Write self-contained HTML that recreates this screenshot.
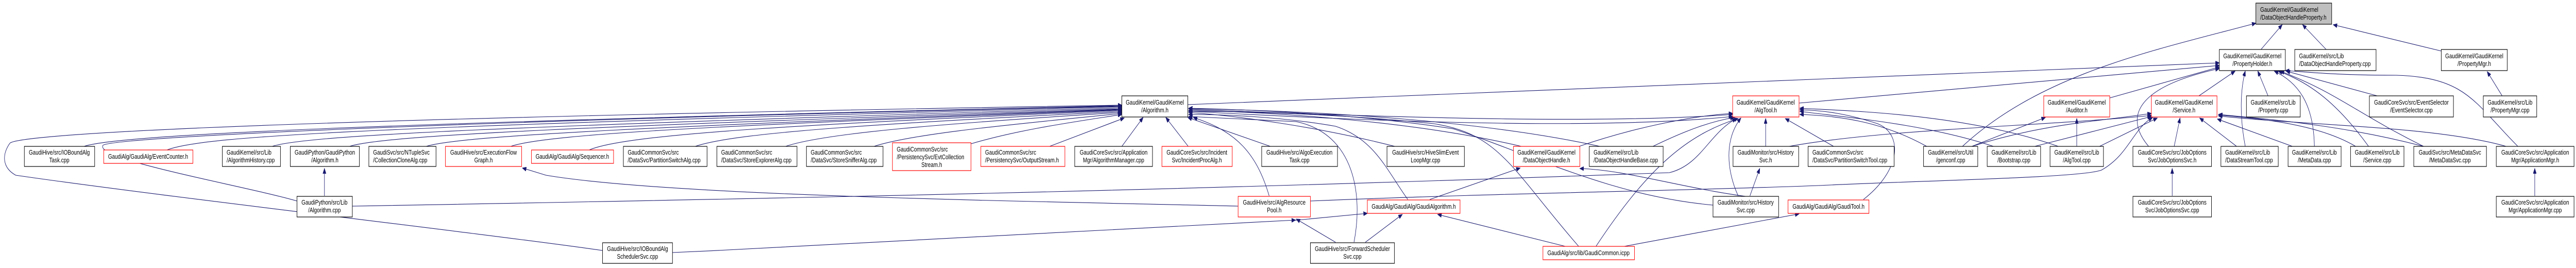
<!DOCTYPE html>
<html><head><meta charset="utf-8"><style>
html,body{margin:0;padding:0;background:#fff;width:100%;height:100%;overflow:hidden;}
svg{display:block;width:100vw;height:100vh;}
text{font-family:"Liberation Sans",Arial,sans-serif;font-size:13px;fill:#000;}
.b{fill:#fff;stroke:#000;stroke-width:1.2;}
.r{fill:#fff;stroke:#ff0000;stroke-width:1.2;}
.e{fill:none;stroke:#191970;stroke-width:1.1;marker-end:url(#a);}
.c{text-anchor:middle;}
</style></head><body>
<svg viewBox="0 0 6558 520" preserveAspectRatio="none" xmlns="http://www.w3.org/2000/svg">
<defs><marker id="a" markerUnits="userSpaceOnUse" markerWidth="11" markerHeight="8" refX="10" refY="4" orient="auto"><path d="M0,0 L10,4 L0,8 z" fill="#191970" stroke="#191970"/></marker></defs>

<path class="e" d="M214,284 C300,262 900,240 2856,205"/>
<path class="e" d="M425,291 C520,262 1000,245 2856,207"/>
<path class="e" d="M693,284 C780,262 1300,245 2856,209"/>
<path class="e" d="M890,284 C980,262 1500,245 2856,211"/>
<path class="e" d="M1085,284 C1180,262 1700,245 2856,212"/>
<path class="e" d="M1300,284 C1400,258 1900,242 2856,213"/>
<path class="e" d="M1500,291 C1600,258 2100,240 2856,214"/>
<path class="e" d="M1770,284 C1880,255 2300,238 2856,216"/>
<path class="e" d="M2000,284 C2100,258 2400,240 2856,218"/>
<path class="e" d="M2225,284 C2330,258 2600,240 2856,220"/>
<path class="e" d="M2472,279 C2600,250 2750,235 2856,222"/>
<path class="e" d="M2672,284 L2862,229"/>
<path class="e" d="M2856,284 L2910,228"/>
<path class="e" d="M3025,284 L2968,228"/>
<path class="e" d="M3234,284 L3024,228"/>
<path class="e" d="M3551,284 C3350,245 3150,225 3026,218"/>
<path class="e" d="M3873,284 C3600,235 3250,218 3026,214"/>
<path class="e" d="M4073,284 C3750,230 3300,214 3026,211"/>
<path class="e" d="M3584,387 C3530,330 3500,270 3400,245 C3250,225 3100,222 3026,222"/>
<path class="e" d="M4019,478 C3850,330 3820,260 3650,240 C3400,220 3150,216 3026,216"/>
<path class="e" d="M3447,470 C3470,380 3450,260 3300,236 L3026,226"/>
<path class="e" d="M3231,380 C3200,300 3150,255 3038,228"/>
<path class="e" d="M4361,398 C4100,380 3900,300 3700,250 C3450,220 3150,212 3026,210"/>
<path class="e" d="M1534,486 C1200,450 400,380 40,340 C5,325 5,300 25,278 C40,265 400,235 2856,204"/>
<path class="e" d="M756,390 C620,360 240,310 262,282 C280,268 1000,238 2856,206"/>
<path class="e" d="M826,380 L826,327"/>
<path class="e" d="M897,400 C2000,385 3000,370 4250,335 C4330,320 4350,260 4420,230"/>
<path class="e" d="M3152,400 C2600,390 1700,380 1390,340 L1330,326"/>
<path class="e" d="M1712,490 C2300,470 2900,445 3298,427"/>
<path class="e" d="M3400,470 L3300,425"/>
<path class="e" d="M3476,470 L3570,416"/>
<path class="e" d="M3290,428 L3481,414"/>
<path class="e" d="M3640,387 L3870,326"/>
<path class="e" d="M3985,478 L3660,416"/>
<path class="e" d="M4063,478 C4200,320 4300,260 4425,230"/>
<path class="e" d="M4135,478 L4580,415"/>
<path class="e" d="M3336,390 C3800,375 4300,370 4630,360 C4900,350 5300,345 5350,330 C5420,300 5430,250 5480,228"/>
<path class="e" d="M4020,284 C4150,250 4300,225 4411,220"/>
<path class="e" d="M4208,284 C4300,250 4360,235 4415,228"/>
<path class="e" d="M4497,386 C4300,370 4150,330 4022,327"/>
<path class="e" d="M4455,380 L4480,327"/>
<path class="e" d="M4425,380 C4395,330 4390,270 4432,229"/>
<path class="e" d="M4744,387 C4840,330 4845,260 4780,240 C4700,220 4640,214 4582,213"/>
<path class="e" d="M3030,212 C3600,230 4100,240 4411,222"/>
<path class="e" d="M3030,216 C3600,240 4100,250 4411,226"/>
<path class="e" d="M4495,284 L4495,230"/>
<path class="e" d="M4555,284 C4800,250 5200,245 5477,224"/>
<path class="e" d="M4668,284 L4545,230"/>
<path class="e" d="M4905,284 C4800,240 4700,225 4582,222"/>
<path class="e" d="M4996,284 C5200,140 5500,95 5743,45"/>
<path class="e" d="M5020,284 L5207,228"/>
<path class="e" d="M5020,284 C5200,240 5350,235 5477,220"/>
<path class="e" d="M5075,284 C4900,240 4700,228 4582,216"/>
<path class="e" d="M5180,284 L5477,226"/>
<path class="e" d="M5287,284 L5287,230"/>
<path class="e" d="M5240,284 C5000,220 4700,215 4582,210"/>
<path class="e" d="M5345,284 L5492,229"/>
<path class="e" d="M5371,190 L5650,130"/>
<path class="e" d="M4580,200 L5650,127"/>
<path class="e" d="M3024,203 L5650,122"/>
<path class="e" d="M5598,186 L5690,138"/>
<path class="e" d="M5535,284 L5550,229"/>
<path class="e" d="M5470,284 C5410,230 5430,170 5650,133"/>
<path class="e" d="M5530,380 L5530,327"/>
<path class="e" d="M5694,284 L5600,229"/>
<path class="e" d="M5716,284 C5700,220 5705,170 5716,138"/>
<path class="e" d="M5836,284 L5645,231"/>
<path class="e" d="M5892,284 C5890,200 5850,160 5790,138"/>
<path class="e" d="M5997,284 C5900,240 5750,230 5648,223"/>
<path class="e" d="M6030,284 C5950,200 5880,160 5800,138"/>
<path class="e" d="M6170,284 C5950,240 5750,230 5648,222"/>
<path class="e" d="M6170,284 C6000,220 5950,180 5805,138"/>
<path class="e" d="M6380,284 C6200,245 5900,245 5648,225"/>
<path class="e" d="M6410,284 C6300,200 6280,150 6100,146 C5950,146 5880,140 5818,137"/>
<path class="e" d="M6453,380 L6453,327"/>
<path class="e" d="M5774,186 L5748,138"/>
<path class="e" d="M6052,186 L5820,138"/>
<path class="e" d="M5756,96 L5810,48"/>
<path class="e" d="M5922,96 L5862,48"/>
<path class="e" d="M6215,99 L5940,48"/>
<path class="e" d="M6370,186 L6332,139"/>

<rect class="b" x="5743" y="6" width="193" height="41" style="fill:#bfbfbf"/>
<text x="5754" y="23">GaudiKernel/GaudiKernel</text><text x="5754" y="38">/DataObjectHandleProperty.h</text>

<rect class="b" x="5650" y="96" width="168" height="41"/>
<text class="c" x="5734" y="113">GaudiKernel/GaudiKernel</text><text class="c" x="5734" y="128">/PropertyHolder.h</text>
<rect class="b" x="5842" y="96" width="207" height="41"/>
<text x="5853" y="113">GaudiKernel/src/Lib</text><text x="5853" y="128">/DataObjectHandleProperty.cpp</text>
<rect class="b" x="6215" y="96" width="168" height="41"/>
<text class="c" x="6299" y="113">GaudiKernel/GaudiKernel</text><text class="c" x="6299" y="128">/PropertyMgr.h</text>

<rect class="b" x="2856" y="186" width="168" height="41"/>
<text class="c" x="2940" y="203">GaudiKernel/GaudiKernel</text><text class="c" x="2940" y="218">/Algorithm.h</text>
<rect class="r" x="4411" y="186" width="169" height="41"/>
<text class="c" x="4495" y="203">GaudiKernel/GaudiKernel</text><text class="c" x="4495" y="218">/AlgTool.h</text>
<rect class="r" x="5203" y="186" width="168" height="41"/>
<text class="c" x="5287" y="203">GaudiKernel/GaudiKernel</text><text class="c" x="5287" y="218">/Auditor.h</text>
<rect class="r" x="5477" y="186" width="167" height="41"/>
<text class="c" x="5560" y="203">GaudiKernel/GaudiKernel</text><text class="c" x="5560" y="218">/Service.h</text>
<rect class="b" x="5719" y="186" width="137" height="41"/>
<text class="c" x="5787" y="203">GaudiKernel/src/Lib</text><text class="c" x="5787" y="218">/Property.cpp</text>
<rect class="b" x="6032" y="186" width="214" height="41"/>
<text class="c" x="6139" y="203">GaudiCoreSvc/src/EventSelector</text><text class="c" x="6139" y="218">/EventSelector.cpp</text>
<rect class="b" x="6322" y="186" width="136" height="41"/>
<text class="c" x="6390" y="203">GaudiKernel/src/Lib</text><text class="c" x="6390" y="218">/PropertyMgr.cpp</text>

<rect class="b" x="62" y="284" width="179" height="39"/>
<text class="c" x="151" y="300">GaudiHive/src/IOBoundAlg</text><text class="c" x="151" y="315">Task.cpp</text>
<rect class="r" x="264" y="291" width="227" height="26"/>
<text class="c" x="377" y="308">GaudiAlg/GaudiAlg/EventCounter.h</text>
<rect class="b" x="566" y="284" width="148" height="39"/>
<text x="577" y="300">GaudiKernel/src/Lib</text><text x="577" y="315">/AlgorithmHistory.cpp</text>
<rect class="b" x="739" y="284" width="176" height="39"/>
<text class="c" x="827" y="300">GaudiPython/GaudiPython</text><text class="c" x="827" y="315">/Algorithm.h</text>
<rect class="b" x="939" y="284" width="171" height="39"/>
<text x="950" y="300">GaudiSvc/src/NTupleSvc</text><text x="950" y="315">/CollectionCloneAlg.cpp</text>
<rect class="r" x="1134" y="284" width="194" height="39"/>
<text class="c" x="1231" y="300">GaudiHive/src/ExecutionFlow</text><text class="c" x="1231" y="315">Graph.h</text>
<rect class="r" x="1353" y="291" width="209" height="26"/>
<text class="c" x="1457" y="308">GaudiAlg/GaudiAlg/Sequencer.h</text>
<rect class="b" x="1587" y="284" width="213" height="39"/>
<text x="1598" y="300">GaudiCommonSvc/src</text><text x="1598" y="315">/DataSvc/PartitionSwitchAlg.cpp</text>
<rect class="b" x="1825" y="284" width="204" height="39"/>
<text x="1836" y="300">GaudiCommonSvc/src</text><text x="1836" y="315">/DataSvc/StoreExplorerAlg.cpp</text>
<rect class="b" x="2053" y="284" width="195" height="39"/>
<text x="2064" y="300">GaudiCommonSvc/src</text><text x="2064" y="315">/DataSvc/StoreSnifferAlg.cpp</text>
<rect class="r" x="2272" y="277" width="200" height="54"/>
<text x="2283" y="294">GaudiCommonSvc/src</text><text x="2283" y="309">/PersistencySvc/EvtCollection</text><text class="c" x="2372" y="324">Stream.h</text>
<rect class="r" x="2497" y="284" width="214" height="39"/>
<text x="2508" y="300">GaudiCommonSvc/src</text><text x="2508" y="315">/PersistencySvc/OutputStream.h</text>
<rect class="b" x="2736" y="284" width="198" height="39"/>
<text class="c" x="2835" y="300">GaudiCoreSvc/src/Application</text><text class="c" x="2835" y="315">Mgr/AlgorithmManager.cpp</text>
<rect class="r" x="2958" y="284" width="179" height="39"/>
<text class="c" x="3047" y="300">GaudiCoreSvc/src/Incident</text><text class="c" x="3047" y="315">Svc/IncidentProcAlg.h</text>
<rect class="b" x="3212" y="284" width="193" height="39"/>
<text class="c" x="3308" y="300">GaudiHive/src/AlgoExecution</text><text class="c" x="3308" y="315">Task.cpp</text>
<rect class="b" x="3531" y="284" width="197" height="39"/>
<text class="c" x="3629" y="300">GaudiHive/src/HiveSlimEvent</text><text class="c" x="3629" y="315">LoopMgr.cpp</text>
<rect class="r" x="3853" y="284" width="169" height="39"/>
<text class="c" x="3937" y="300">GaudiKernel/GaudiKernel</text><text class="c" x="3937" y="315">/DataObjectHandle.h</text>
<rect class="b" x="4046" y="284" width="188" height="39"/>
<text x="4057" y="300">GaudiKernel/src/Lib</text><text x="4057" y="315">/DataObjectHandleBase.cpp</text>
<rect class="b" x="4412" y="284" width="167" height="39"/>
<text class="c" x="4495" y="300">GaudiMonitor/src/History</text><text class="c" x="4495" y="315">Svc.h</text>
<rect class="b" x="4603" y="284" width="219" height="39"/>
<text x="4614" y="300">GaudiCommonSvc/src</text><text x="4614" y="315">/DataSvc/PartitionSwitchTool.cpp</text>
<rect class="b" x="4897" y="284" width="138" height="39"/>
<text class="c" x="4966" y="300">GaudiKernel/src/Util</text><text class="c" x="4966" y="315">/genconf.cpp</text>
<rect class="b" x="5059" y="284" width="136" height="39"/>
<text class="c" x="5127" y="300">GaudiKernel/src/Lib</text><text class="c" x="5127" y="315">/Bootstrap.cpp</text>
<rect class="b" x="5219" y="284" width="136" height="39"/>
<text class="c" x="5287" y="300">GaudiKernel/src/Lib</text><text class="c" x="5287" y="315">/AlgTool.cpp</text>
<rect class="b" x="5430" y="284" width="200" height="39"/>
<text class="c" x="5530" y="300">GaudiCoreSvc/src/JobOptions</text><text class="c" x="5530" y="315">Svc/JobOptionsSvc.h</text>
<rect class="b" x="5654" y="284" width="146" height="39"/>
<text x="5665" y="300">GaudiKernel/src/Lib</text><text x="5665" y="315">/DataStreamTool.cpp</text>
<rect class="b" x="5825" y="284" width="135" height="39"/>
<text class="c" x="5892" y="300">GaudiKernel/src/Lib</text><text class="c" x="5892" y="315">/MetaData.cpp</text>
<rect class="b" x="5984" y="284" width="136" height="39"/>
<text class="c" x="6052" y="300">GaudiKernel/src/Lib</text><text class="c" x="6052" y="315">/Service.cpp</text>
<rect class="b" x="6145" y="284" width="185" height="39"/>
<text class="c" x="6237" y="300">GaudiSvc/src/MetaDataSvc</text><text class="c" x="6237" y="315">/MetaDataSvc.cpp</text>
<rect class="b" x="6355" y="284" width="198" height="39"/>
<text class="c" x="6454" y="300">GaudiCoreSvc/src/Application</text><text class="c" x="6454" y="315">Mgr/ApplicationMgr.h</text>

<rect class="b" x="756" y="381" width="141" height="40"/>
<text class="c" x="826" y="397">GaudiPython/src/Lib</text><text class="c" x="826" y="412">/Algorithm.cpp</text>
<rect class="r" x="3152" y="381" width="184" height="40"/>
<text class="c" x="3244" y="397">GaudiHive/src/AlgResource</text><text class="c" x="3244" y="412">Pool.h</text>
<rect class="r" x="3481" y="388" width="236" height="26"/>
<text class="c" x="3599" y="405">GaudiAlg/GaudiAlg/GaudiAlgorithm.h</text>
<rect class="b" x="4361" y="381" width="167" height="40"/>
<text class="c" x="4444" y="397">GaudiMonitor/src/History</text><text class="c" x="4444" y="412">Svc.cpp</text>
<rect class="r" x="4552" y="388" width="206" height="26"/>
<text class="c" x="4655" y="405">GaudiAlg/GaudiAlg/GaudiTool.h</text>
<rect class="b" x="5430" y="381" width="200" height="40"/>
<text class="c" x="5530" y="397">GaudiCoreSvc/src/JobOptions</text><text class="c" x="5530" y="412">Svc/JobOptionsSvc.cpp</text>
<rect class="b" x="6355" y="381" width="198" height="40"/>
<text class="c" x="6454" y="397">GaudiCoreSvc/src/Application</text><text class="c" x="6454" y="412">Mgr/ApplicationMgr.cpp</text>

<rect class="b" x="1534" y="471" width="178" height="40"/>
<text class="c" x="1623" y="487">GaudiHive/src/IOBoundAlg</text><text class="c" x="1623" y="502">SchedulerSvc.cpp</text>
<rect class="b" x="3336" y="471" width="214" height="40"/>
<text class="c" x="3443" y="487">GaudiHive/src/ForwardScheduler</text><text class="c" x="3443" y="502">Svc.cpp</text>
<rect class="r" x="3928" y="478" width="233" height="26"/>
<text class="c" x="4044" y="495">GaudiAlg/src/lib/GaudiCommon.icpp</text>
</svg>
</body></html>
